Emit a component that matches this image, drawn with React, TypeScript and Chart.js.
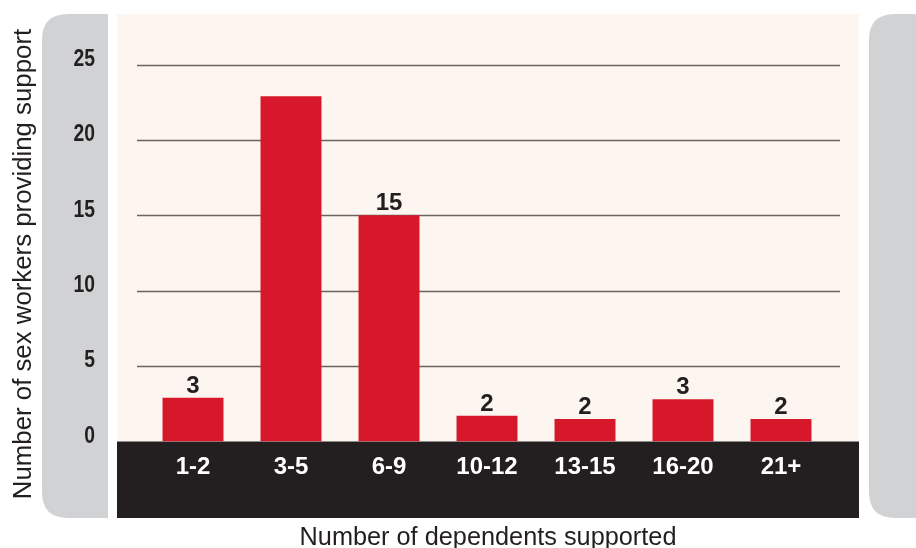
import React, { useEffect, useRef } from "react";
import { Chart, registerables } from "chart.js";

Chart.register(...registerables);

const categories = ["1-2", "3-5", "6-9", "10-12", "13-15", "16-20", "21+"];
const barValues = [2.9, 22.9, 15, 1.7, 1.5, 2.8, 1.5];
const valueLabels: (string | null)[] = ["3", null, "15", "2", "2", "3", "2"];
const yTicks = [0, 5, 10, 15, 20, 25];
const gridValues = [5, 10, 15, 20, 25];
const yTitle = "Number of sex workers providing support";
const xTitle = "Number of dependents supported";

const RED = "#d7182a";
const CREAM = "#fdf5ef";
const GREY = "#d1d2d4";
const DARK = "#231f20";
const GRID = "#6a6561";

function roundRect(ctx: CanvasRenderingContext2D, x: number, y: number, w: number, h: number, r: [number, number, number, number]) {
  const [tl, tr, br, bl] = r;
  ctx.beginPath();
  ctx.moveTo(x + tl, y);
  ctx.lineTo(x + w - tr, y);
  ctx.quadraticCurveTo(x + w, y, x + w, y + tr);
  ctx.lineTo(x + w, y + h - br);
  ctx.quadraticCurveTo(x + w, y + h, x + w - br, y + h);
  ctx.lineTo(x + bl, y + h);
  ctx.quadraticCurveTo(x, y + h, x, y + h - bl);
  ctx.lineTo(x, y + tl);
  ctx.quadraticCurveTo(x, y, x + tl, y);
  ctx.closePath();
}

const decorPlugin = {
  id: "decor",
  beforeDatasetsDraw(chart: any) {
    const ctx: CanvasRenderingContext2D = chart.ctx;
    const y = chart.scales.y;
    const x = chart.scales.x;
    ctx.save();
    // panels
    ctx.fillStyle = GREY;
    roundRect(ctx, 42, 14, 66, 504, [26, 0, 0, 26]);
    ctx.fill();
    roundRect(ctx, 869, 14, 68, 504, [26, 26, 26, 26]);
    ctx.fill();
    ctx.fillStyle = CREAM;
    ctx.fillRect(117, 14, 742, 504);
    const zeroPx = y.getPixelForValue(0);
    ctx.fillStyle = DARK;
    ctx.fillRect(117, zeroPx, 742, 518 - zeroPx);
    // grid
    ctx.strokeStyle = GRID;
    ctx.lineWidth = 1.6;
    gridValues.forEach((v) => {
      const py = Math.round(y.getPixelForValue(v)) + 0.5;
      ctx.beginPath();
      ctx.moveTo(137, py);
      ctx.lineTo(840, py);
      ctx.stroke();
    });
    // y tick labels (condensed)
    ctx.save();
    ctx.fillStyle = DARK;
    ctx.font = "bold 23px 'Liberation Sans', Arial, sans-serif";
    ctx.textAlign = "right";
    ctx.textBaseline = "middle";
    const sx = 0.84;
    ctx.scale(sx, 1);
    yTicks.forEach((v) => {
      ctx.fillText(String(v), 95 / sx, y.getPixelForValue(v) - 5);
    });
    ctx.restore();
    // x labels
    ctx.fillStyle = "#ffffff";
    ctx.font = "bold 24px 'Liberation Sans', Arial, sans-serif";
    ctx.textAlign = "center";
    ctx.textBaseline = "middle";
    categories.forEach((c, i) => {
      ctx.fillText(c, x.getPixelForValue(i), 467);
    });
    // titles
    ctx.fillStyle = DARK;
    ctx.font = "25.3px 'Liberation Sans', Arial, sans-serif";
    ctx.textAlign = "center";
    ctx.textBaseline = "alphabetic";
    ctx.fillText(xTitle, 488, 545);
    ctx.save();
    ctx.font = "25.8px 'Liberation Sans', Arial, sans-serif";
    ctx.translate(31, 264);
    ctx.rotate(-Math.PI / 2);
    ctx.fillText(yTitle, 0, 0);
    ctx.restore();
    ctx.restore();
  },
  afterDatasetsDraw(chart: any) {
    const ctx: CanvasRenderingContext2D = chart.ctx;
    const meta = chart.getDatasetMeta(0);
    ctx.save();
    ctx.fillStyle = DARK;
    ctx.font = "bold 24px 'Liberation Sans', Arial, sans-serif";
    ctx.textAlign = "center";
    ctx.textBaseline = "alphabetic";
    meta.data.forEach((bar: any, i: number) => {
      const t = valueLabels[i];
      if (t) ctx.fillText(t, bar.x, bar.y - 5);
    });
    ctx.restore();
  },
};

export default function App() {
  const ref = useRef<HTMLCanvasElement | null>(null);
  useEffect(() => {
    if (!ref.current) return;
    const chart = new Chart(ref.current, {
      type: "bar",
      data: {
        labels: categories,
        datasets: [
          {
            data: barValues,
            backgroundColor: RED,
            borderWidth: 0,
            categoryPercentage: 1,
            barPercentage: 0.622,
          },
        ],
      },
      options: {
        responsive: false,
        animation: false,
        devicePixelRatio: 1,
        layout: { padding: { left: 144, right: 86, top: 64.5, bottom: 106.5 } },
        plugins: { legend: { display: false }, tooltip: { enabled: false }, title: { display: false } },
        scales: {
          x: { display: false, offset: true },
          y: { display: false, min: 0, max: 25 },
        },
      },
      plugins: [decorPlugin],
    });
    return () => chart.destroy();
  }, []);
  return (
    <div style={{ position: "absolute", left: 0, top: 0, width: 916, height: 548, background: "#ffffff" }}>
      <canvas ref={ref} width={916} height={548} style={{ width: 916, height: 548, display: "block" }} />
    </div>
  );
}
